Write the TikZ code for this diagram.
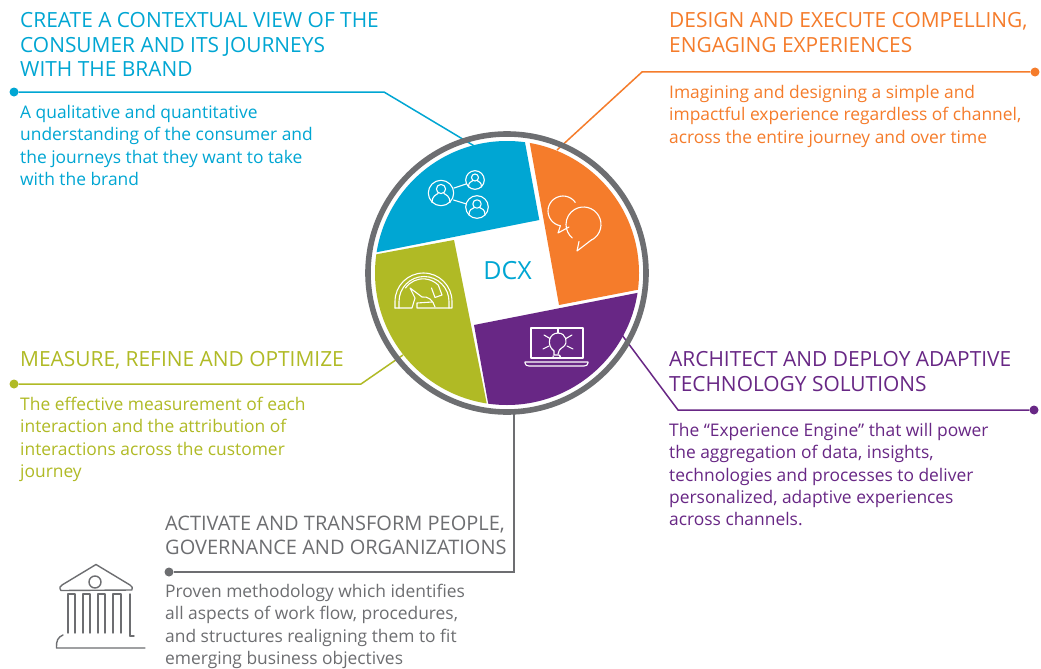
\documentclass[tikz,border=0pt]{standalone}
\usepackage{fontspec}
\setmainfont{Open Sans}
\definecolor{cblue}{HTML}{00A6D3}
\definecolor{corange}{HTML}{F57C2B}
\definecolor{cpurple}{HTML}{682785}
\definecolor{cgreen}{HTML}{B0BA25}
\definecolor{cgray}{HTML}{6D6E71}
\tikzset{
  head/.style={anchor=north west,inner sep=0pt,align=left,font=\fontsize{20.9}{24.4}\selectfont},
  headsmall/.style={head,font=\fontsize{20}{24.4}\selectfont},
  body/.style={anchor=north west,inner sep=0pt,align=left,font=\fontsize{17.4}{22.3}\selectfont},
  dot/.style={circle,fill,inner sep=0pt,minimum size=9pt},
  conn/.style={line width=1.5pt},
  icon/.style={white,line width=1.1pt,line cap=round,line join=round},
  bank/.style={cgray,line width=1.4pt,line cap=round,line join=round},
}
\begin{document}
\begin{tikzpicture}[x=1pt,y=-1pt]
\useasboundingbox (0,0) rectangle (1041,669);
\fill[white] (0,0) rectangle (1041,669);
% connectors
\node[dot,cblue] (dA) at (14,92) {};
\node[dot,corange] (dB) at (1035,72) {};
\node[dot,cgreen] (dC) at (14,384) {};
\node[dot,cpurple] (dD) at (1034,410) {};
\node[dot,cgray] (dE) at (169,572) {};
\coordinate (eA) at (476,147);
\coordinate (eB) at (557,150);
\coordinate (eC) at (403,355);
\coordinate (eD) at (622,335);
\coordinate (eE) at (514,412);
\draw[conn,cblue] (dA) -- (384,92) -- (eA);
\draw[conn,corange] (dB) -- (642,72) -- (eB);
\draw[conn,cgreen] (dC) -- (361,384) -- (eC);
\draw[conn,cpurple] (dD) -- (678,410) -- (eD);
\draw[conn,cgray] (dE) -- (514,572) -- (eE);
% ring and segments
\coordinate (ctr) at (507,273);
\draw[cgray,line width=5.6pt] (ctr) circle (139);
\begin{scope}
\clip (ctr) circle (132);
\fill[cblue] (365.3,254.5) -- (539.3,220) -- (524.2,138) -- (500,120) -- (360,120) -- cycle;
\fill[corange] (526.5,125) -- (559,305) -- (650,287.4) -- (650,125) -- cycle;
\fill[cpurple] (474,325) -- (650,290.4) -- (650,420) -- (491.2,420) -- cycle;
\fill[cgreen] (454,240) -- (360,257.3) -- (360,420) -- (490,420) -- cycle;
\end{scope}
\node[cblue,inner sep=0pt,font=\fontsize{25}{28}\selectfont] (dcx) at (507.5,270.5) {DCX};
% people icon
\draw[icon] (441,193) circle (12.7) (475,180) circle (9.3) (477,207) circle (11.3);
\draw[icon] (454,188) -- (466,184) (453.5,200) -- (466.5,204);
\draw[icon] (441,189) circle (4.6)
  (432,202.5) .. controls (432,196) and (436,195) .. (438,193.5)
  (450,202.5) .. controls (450,196) and (446,195) .. (444,193.5);
\draw[icon] (475,177.5) circle (3.5)
  (468.5,187) .. controls (468.5,182) and (471,182) .. (473,180.5)
  (481.5,187) .. controls (481.5,182) and (479,182) .. (477,180.5);
\draw[icon] (477,204) circle (4.2)
  (469,215) .. controls (469,209) and (472,209) .. (474.5,207.5)
  (485,215) .. controls (485,209) and (482,209) .. (479.5,207.5);
% speech bubbles
\draw[icon] (563,211) ++(-35:15) arc (-35:-260:15) -- (558,233) -- (569,227);
\draw[icon] (583.5,224.5) ++(60:17.5) arc (60:-230:17.5);
\draw[icon] (579,241.5) -- (577,251) -- (592,239.5);
% gauge icon
\draw[icon] (395,308) -- (395,301.5) arc (180:360:28.5) -- (452,308) -- (417,308) -- (417,303) -- (432,302);
\draw[icon] (399,308) -- (399,301.5) arc (180:360:25) -- (449,308);
\draw[icon] (395,308) -- (412,308) -- (415,298) -- (410,288) -- (422,297) .. controls (428,296) and (433,300) .. (435,307);
\draw[icon] (405.5,288) arc (215:315:21.5) -- (442,295) -- (435,297.5) -- (431.5,288);
% bulb icon
\draw[icon] (531,358) -- (531,328) -- (583,328) -- (583,358) -- cycle;
\draw[icon] (558,328) -- (558,333);
\draw[icon] (525,362) -- (588,362) -- (588,363) .. controls (588,365) and (586,366) .. (584,366) -- (529,366) .. controls (527,366) and (525,365) .. (525,363) -- cycle;
\draw[icon] (554,351) .. controls (546,345) and (549,333) .. (558,333)
  .. controls (566,333) and (569,343) .. (563,347) .. controls (560,349) and (558,351) .. (558,354) ;
\draw[icon] (554,351) -- (554,355) -- (559,355) .. controls (561,355) and (561,358) .. (559,358) -- (556,358) .. controls (553,358) and (553,357) .. (553,356);
\draw[icon] (544,335) -- (550,338.5) (572,335) -- (566,338.5) (543,349) -- (549,346) (573,349) -- (567,346);
% bank icon
\draw[bank] (61,590.5) .. controls (59,588) and (60,586) .. (62,585) -- (96,564.5) -- (130,585) .. controls (132,586) and (133,588) .. (132,590) -- cycle;
\draw[bank] (95,582) circle (6);
\draw[bank] (68,633) -- (68,594) -- (75,594) -- (75,633)
  (83,633) -- (83,594) -- (90,594) -- (90,633)
  (98,633) -- (98,594) -- (105,594) -- (105,633)
  (113,633) -- (113,594) -- (121,594) -- (121,633)
  (130,636) -- (130,594) ;
\draw[bank] (63,635) .. controls (58,637) and (56,641) .. (56.5,648) -- (145,648);
\draw[bank] (130,636) -- (134,636);
% texts
\node[head,cblue] (t1) at (20,12.5) {CREATE A CONTEXTUAL VIEW OF THE\\CONSUMER AND ITS JOURNEYS\\WITH THE BRAND};
\node[body,cblue] (b1) at (20,105) {A qualitative and quantitative\\understanding of the consumer and\\the journeys that they want to take\\with the brand};
\node[head,corange] (t2) at (669,12.5) {DESIGN AND EXECUTE COMPELLING,\\ENGAGING EXPERIENCES};
\node[body,corange] (b2) at (669,85) {Imagining and designing a simple and\\impactful experience regardless of channel,\\across the entire journey and over time};
\node[head,cgreen] (t3) at (20,351.5) {MEASURE, REFINE AND OPTIMIZE};
\node[body,cgreen] (b3) at (20,397) {The effective measurement of each\\interaction and the attribution of\\interactions across the customer\\journey};
\node[head,cpurple] (t4) at (669,351.5) {ARCHITECT AND DEPLOY ADAPTIVE\\TECHNOLOGY SOLUTIONS};
\node[body,cpurple] (b4) at (669,423) {The “Experience Engine” that will power\\the aggregation of data, insights,\\technologies and processes to deliver\\personalized, adaptive experiences\\across channels.};
\node[headsmall,cgray] (t5) at (165,515.5) {ACTIVATE AND TRANSFORM PEOPLE,\\GOVERNANCE AND ORGANIZATIONS};
\node[body,cgray] (b5) at (165,584) {Proven methodology which identifies\\all aspects of work flow, procedures,\\and structures realigning them to fit\\emerging business objectives};
\end{tikzpicture}
\end{document}
